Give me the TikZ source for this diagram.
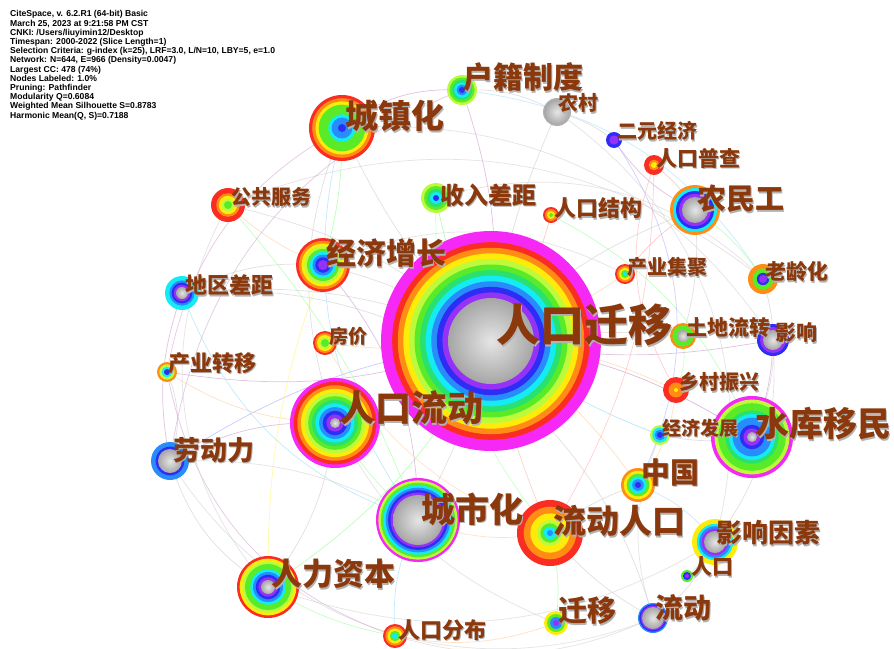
\documentclass[tikz,border=0pt]{standalone}
\usepackage{fontspec}
\newfontfamily\cjk{Noto Sans CJK SC}
\newfontfamily\hdrfont{Liberation Sans}
\definecolor{cmag}{RGB}{245,40,245}
\definecolor{cred}{RGB}{250,45,35}
\definecolor{corange}{RGB}{255,140,20}
\definecolor{cyellow}{RGB}{255,235,10}
\definecolor{cyg}{RGB}{190,250,60}
\definecolor{cgreen}{RGB}{90,235,40}
\definecolor{cgreen2}{RGB}{40,225,110}
\definecolor{ccyan}{RGB}{20,235,245}
\definecolor{clblue}{RGB}{40,140,250}
\definecolor{cblue}{RGB}{45,45,245}
\definecolor{cviolet}{RGB}{150,50,245}
\definecolor{lblc}{RGB}{139,56,12}
\tikzset{
  core/.style={shade, inner color=gray!20, outer color=gray!70},
  ltext/.style={anchor=west, inner sep=0pt, text=lblc},
  lshadow/.style={anchor=west, inner sep=0pt, text=black!30},
  e/.style={line width=0.7pt, opacity=0.6},
}
\newcommand\kw[5]{%
  \foreach \c [count=\n] in {#4} {\xdef\nring{\n}}%
  \foreach \c [count=\i from 0] in {#4} {%
    \pgfmathsetmacro\rr{#2-\i*(#2-#3)/\nring}%
    \fill[fill=\c] (#1) circle[radius=\rr pt];
  }%
  \path[#5] (#1) circle[radius=#3 pt];
}
\newcommand\lab[5]{%
  \node[lshadow, font=\cjk\bfseries\fontsize{#4}{#4}\selectfont] (#1s) at (#2+1.6,#3+1.6) {#5};
  \node[ltext, font=\cjk\bfseries\fontsize{#4}{#4}\selectfont] (#1) at (#2,#3) {#5};
}
\begin{document}
\begin{tikzpicture}[x=1pt,y=-1pt]
\fill[white] (0,0) rectangle (894,648);
\useasboundingbox (0,0) rectangle (894,648);
% node centres
\coordinate (qy) at (491,341);
\coordinate (ll) at (335,423);
\coordinate (czh) at (342,128);
\coordinate (hj) at (462,90);
\coordinate (nc) at (557,112);
\coordinate (ey) at (614,140);
\coordinate (pc) at (654,165);
\coordinate (nmg) at (695,210);
\coordinate (gg) at (228,205);
\coordinate (sr) at (436,198);
\coordinate (rj) at (551,215);
\coordinate (jz) at (323,265);
\coordinate (dq) at (182,293);
\coordinate (cj) at (625,274);
\coordinate (lh) at (763,279);
\coordinate (td) at (683,336);
\coordinate (yx) at (773,340);
\coordinate (fj) at (325,343);
\coordinate (cz) at (167,372);
\coordinate (xc) at (676,390);
\coordinate (jf) at (660,435);
\coordinate (sk) at (752,437);
\coordinate (ldl) at (170,461);
\coordinate (zg) at (638,485);
\coordinate (csh) at (418,520);
\coordinate (ldrk) at (550,533);
\coordinate (yxys) at (715,542);
\coordinate (rk) at (687,576);
\coordinate (rlzb) at (268,587);
\coordinate (qyi) at (556,623);
\coordinate (ld) at (653,618);
\coordinate (fb) at (395,636);
% faint connectors
\draw[e, gray!40] (qy) to[bend left=10] (czh);
\draw[e, violet!40] (qy) to[bend right=12] (hj);
\draw[e, gray!40] (qy) to[bend left=8] (nc);
\draw[e, green!50] (qy) to[bend left=10] (sr);
\draw[e, red!35] (qy) to[bend right=10] (rj);
\draw[e, gray!40] (qy) to[bend left=12] (nmg);
\draw[e, orange!40] (qy) to[bend right=8] (cj);
\draw[e, gray!40] (qy) to[bend left=6] (td);
\draw[e, violet!40] (qy) to[bend right=10] (yx);
\draw[e, orange!40] (qy) to[bend left=10] (xc);
\draw[e, cyan!45] (qy) to[bend right=8] (jf);
\draw[e, violet!45] (qy) to[bend left=12] (sk);
\draw[e, orange!40] (qy) to[bend left=10] (zg);
\draw[e, red!30] (qy) to[bend right=6] (ldrk);
\draw[e, gray!40] (qy) to[bend left=6] (csh);
\draw[e, gray!40] (qy) to[bend right=10] (jz);
\draw[e, orange!40] (qy) to[bend left=8] (fj);
\draw[e, gray!40] (qy) to[bend right=14] (dq);
\draw[e, green!45] (qy) to[bend left=14] (rlzb);
\draw[e, blue!35] (qy) to[bend right=12] (ldl);
\draw[e, violet!40] (qy) to[bend left=14] (cz);
\draw[e, gray!40] (qy) to[bend right=14] (gg);
\draw[e, gray!40] (czh) to[bend right=20] (ll);
\draw[e, cyan!40] (czh) to[bend right=25] (csh);
\draw[e, green!45] (czh) to[bend left=8] (jz);
\draw[e, violet!40] (czh) to[bend left=20] (hj);
\draw[e, gray!40] (hj) to[bend left=15] (nc);
\draw[e, gray!40] (nc) to[bend left=10] (ey);
\draw[e, violet!40] (ll) to[bend right=15] (ldl);
\draw[e, gray!40] (ll) to[bend left=15] (rlzb);
\draw[e, green!40] (ll) to[bend right=10] (csh);
\draw[e, gray!40] (ldl) to[bend right=20] (rlzb);
\draw[e, orange!40] (csh) to[bend right=15] (ldrk);
\draw[e, gray!40] (ldrk) to[bend left=10] (zg);
\draw[e, gray!40] (ldrk) to[bend right=10] (ld);
\draw[e, green!40] (ldrk) to[bend left=10] (qyi);
\draw[e, gray!40] (ld) to[bend right=15] (yxys);
\draw[e, green!40] (yxys) to[bend left=10] (rk);
\draw[e, violet!40] (sk) to[bend right=10] (yx);
\draw[e, gray!40] (sk) to[bend left=10] (jf);
\draw[e, red!35] (nmg) to[bend right=10] (pc);
\draw[e, violet!40] (nmg) to[bend left=15] (ey);
\draw[e, red!35] (nmg) to[bend right=10] (cj);
\draw[e, gray!40] (nmg) to[bend left=10] (td);
\draw[e, orange!40] (gg) to[bend right=10] (jz);
\draw[e, green!40] (gg) to[bend left=10] (csh);
\draw[e, gray!40] (dq) to[bend left=15] (jz);
\draw[e, violet!40] (dq) to[bend right=15] (ldl);
\draw[e, orange!40] (cz) to[bend right=15] (ll);
\draw[e, gray!40] (cz) to[bend left=20] (ldl);
\draw[e, green!40] (fb) to[bend left=10] (rlzb);
\draw[e, cyan!40] (fb) to[bend left=15] (csh);
\draw[e, orange!40] (qyi) to[bend left=15] (fb);
\draw[e, yellow!60] (jz) to[bend right=10] (rlzb);
\draw[e, violet!40] (jz) to[bend left=20] (csh);
\draw[e, green!40] (lh) to[bend right=10] (nmg);
\draw[e, gray!40] (lh) to[bend left=20] (sk);
\draw[e, gray!40] (yx) to[bend left=20] (yxys);
\draw[e, orange!40] (zg) to[bend right=15] (xc);
\draw[e, gray!40] (dq) to[bend left=40] (ld);
\draw[e, gray!35] (ldl) to[bend right=40] (ld);
\draw[e, gray!35] (gg) to[bend left=30] (lh);
\draw[e, violet!35] (cz) to[bend right=30] (fb);
\draw[e, gray!35] (czh) to[bend left=30] (yx);
\draw[e, cyan!35] (hj) to[bend left=25] (lh);
\draw[e, gray!35] (rlzb) to[bend right=25] (yxys);
\draw[e, green!35] (sr) to[bend right=20] (ldrk);
\draw[e, red!30] (pc) to[bend left=15] (ldrk);
\draw[e, gray!35] (gg) to[bend right=35] (rlzb);
\draw[e, violet!35] (hj) to[bend right=30] (ldl);
\draw[e, gray!35] (nc) to[bend left=35] (yxys);
\draw[e, cyan!40] (dq) to[bend right=25] (csh);
\draw[e, gray!35] (sr) to[bend left=30] (lh);
\draw[e, green!40] (rj) to[bend left=20] (sk);
\draw[e, blue!30] (ey) to[bend left=30] (zg);
\draw[e, gray!35] (jz) to[bend left=25] (cj);
\draw[e, orange!35] (fj) to[bend right=20] (ldrk);
\draw[e, gray!35] (ll) to[bend right=20] (qyi);
\draw[e, violet!35] (cz) to[bend left=25] (czh);
\draw[e, gray!35] (ldl) to[bend left=15] (csh);
\draw[e, green!35] (td) to[bend left=15] (xc);
\draw[e, red!30] (pc) to[bend right=25] (xc);
\draw[e, gray!35] (jf) to[bend right=20] (ld);
\draw[e, cyan!35] (zg) to[bend left=15] (yxys);
\draw[e, gray!35] (fb) to[bend right=20] (ld);
% keyword nodes
\kw{qy}{110}{43}{cmag,cmag,cred,corange,cyellow,cyg,cgreen,cgreen2,ccyan,clblue,cblue,cviolet}{core}
\kw{ll}{45}{5}{cmag,cred,corange,cyellow,cyg,cgreen,cgreen2,ccyan,clblue,cblue,cviolet}{core}
\kw{czh}{33}{4}{cred,corange,cyellow,cgreen,cgreen,cgreen,ccyan,clblue,clblue}{fill=cblue}
\kw{hj}{15}{3}{cyg,cgreen,cgreen2,ccyan,clblue}{fill=cblue}
\kw{nc}{14}{13}{gray!60}{core}
\kw{ey}{8}{3}{cblue,cblue,cviolet}{fill=cviolet}
\kw{pc}{10}{3}{cred,cred,corange}{fill=cyellow}
\kw{nmg}{25}{13}{corange,ccyan,cblue,cviolet}{core}
\kw{gg}{17}{4}{cred,cred,corange,cyellow,cyg}{fill=cgreen}
\kw{sr}{15}{3}{cyg,cgreen,cgreen2,ccyan}{fill=cblue}
\kw{rj}{8}{2}{cred,corange,cyellow}{fill=cgreen}
\kw{jz}{27}{5}{cred,corange,cyellow,cyg,cgreen,ccyan,clblue,cblue}{fill=cviolet}
\kw{dq}{17}{6}{ccyan,ccyan,clblue,cblue,cviolet}{core}
\kw{cj}{10}{2}{cred,corange,cyellow,cgreen}{fill=ccyan}
\kw{lh}{15}{4}{corange,corange,cgreen,cgreen,cblue}{fill=cviolet}
\kw{td}{13}{6}{corange,cgreen,cgreen}{core}
\kw{yx}{16}{10}{cblue,cviolet}{core}
\kw{fj}{12}{4}{cred,corange,cyellow,cyg}{fill=cgreen}
\kw{cz}{10}{3}{corange,cyg,ccyan}{fill=cblue}
\kw{xc}{13}{2}{cred,cred,corange,corange}{fill=cyellow}
\kw{jf}{10}{3}{cyg,ccyan,clblue}{fill=cblue}
\kw{sk}{41}{5}{cmag,cyg,cgreen,cgreen,cgreen2,ccyan,clblue,clblue,cblue,cviolet}{core}
\kw{ldl}{19}{12}{clblue,clblue,cblue}{core}
\kw{zg}{17}{3}{corange,cyellow,cgreen,ccyan,clblue}{fill=cblue}
\kw{csh}{42}{25}{cmag,cyg,cgreen,ccyan,clblue,cblue,cviolet}{core}
\kw{ldrk}{33}{3}{cred,cred,corange,corange,cyellow,cyellow,cyg,cgreen,ccyan}{fill=clblue}
\kw{yxys}{23}{11}{cyellow,cyellow,ccyan,clblue,cviolet}{core}
\kw{rk}{6}{2}{cgreen,cblue}{fill=cviolet}
\kw{rlzb}{31}{7}{cred,cyellow,cyg,cgreen,cgreen,ccyan,clblue,cblue,cviolet}{core}
\kw{qyi}{12}{3}{cyellow,cgreen,clblue}{fill=cviolet}
\kw{ld}{15}{11}{clblue,cblue,cviolet}{core}
\kw{fb}{12}{3}{cred,corange,cyellow,cgreen}{fill=ccyan}
% labels
\lab{Lqy}{496}{325}{44}{人口迁移}
\lab{Lll}{339}{408}{36}{人口流动}
\lab{Lczh}{345}{116}{33}{城镇化}
\lab{Lhj}{463}{77}{30}{户籍制度}
\lab{Lnc}{558}{103}{20}{农村}
\lab{Ley}{617}{131}{20}{二元经济}
\lab{Lpc}{656}{158}{21}{人口普查}
\lab{Lnmg}{697}{199}{29}{农民工}
\lab{Lgg}{231}{197}{20}{公共服务}
\lab{Lsr}{440}{195}{24}{收入差距}
\lab{Lrj}{554}{208}{22}{人口结构}
\lab{Ljz}{326}{253}{30}{经济增长}
\lab{Ldq}{185}{285}{22}{地区差距}
\lab{Lcj}{627}{267}{20}{产业集聚}
\lab{Llh}{765}{272}{21}{老龄化}
\lab{Ltd}{686}{328}{21}{土地流转}
\lab{Lyx}{775}{333}{21}{影响}
\lab{Lfj}{329}{336}{19}{房价}
\lab{Lcz}{168}{363}{22}{产业转移}
\lab{Lxc}{679}{382}{20}{乡村振兴}
\lab{Ljf}{662}{428}{19}{经济发展}
\lab{Lsk}{755}{424}{34}{水库移民}
\lab{Lldl}{173}{450}{27}{劳动力}
\lab{Lzg}{641}{472}{29}{中国}
\lab{Lcsh}{421}{509}{34}{城市化}
\lab{Lldrk}{553}{521}{33}{流动人口}
\lab{Lyxys}{716}{533}{26}{影响因素}
\lab{Lrk}{691}{567}{21}{人口}
\lab{Lrlzb}{271}{574}{31}{人力资本}
\lab{Lqyi}{558}{611}{29}{迁移}
\lab{Lld}{655}{608}{28}{流动}
\lab{Lfb}{398}{630}{22}{人口分布}
% header
\node[anchor=north west, inner sep=0pt, align=left,
  font=\hdrfont\bfseries\fontsize{8.6}{9.2}\selectfont] (hdr) at (10,10.5)
{CiteSpace, v. 6.2.R1 (64-bit) Basic\\
March 25, 2023 at 9:21:58 PM CST\\
CNKI: /Users/liuyimin12/Desktop\\
Timespan: 2000-2022 (Slice Length=1)\\
Selection Criteria: g-index (k=25), LRF=3.0, L/N=10, LBY=5, e=1.0\\
Network: N=644, E=966 (Density=0.0047)\\
Largest CC: 478 (74\%)\\
Nodes Labeled: 1.0\%\\
Pruning: Pathfinder\\
Modularity Q=0.6084\\
Weighted Mean Silhouette S=0.8783\\
Harmonic Mean(Q, S)=0.7188};
\end{tikzpicture}
\end{document}
